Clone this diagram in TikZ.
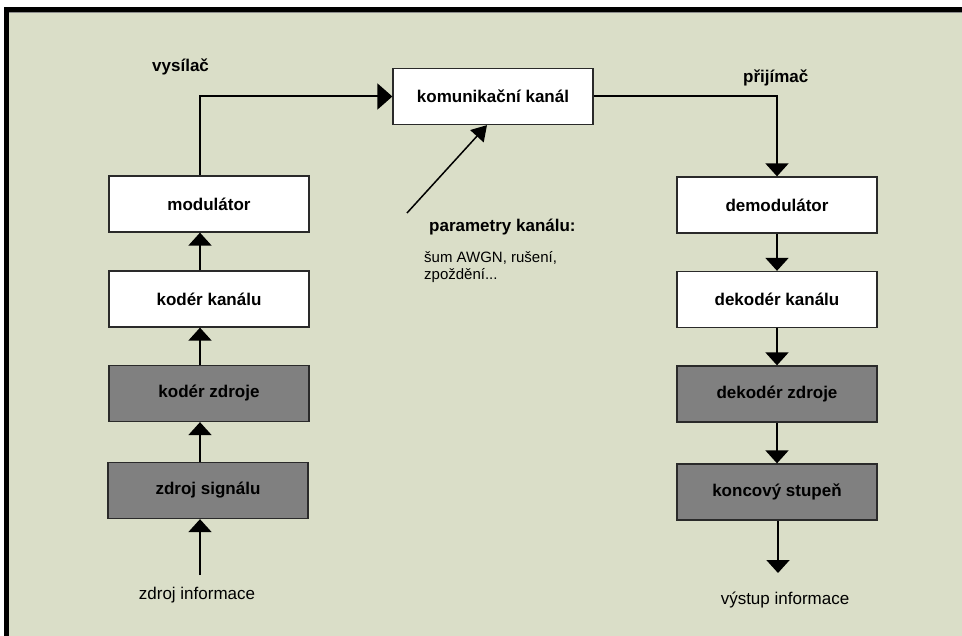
\documentclass[tikz,border=0pt]{standalone}
\usepackage{fontspec}
\setmainfont{Liberation Sans}
\usetikzlibrary{arrows.meta}
\definecolor{bg}{HTML}{DADEC8}
\definecolor{boxgray}{HTML}{808080}
\definecolor{edge}{HTML}{2A2A2A}
\tikzset{
  blk/.style={draw=edge, line width=1.3pt, minimum width=200pt, minimum height=56pt,
    inner sep=0pt, font=\fontsize{17}{20}\selectfont\bfseries, text=black},
  whitebox/.style={blk, fill=white},
  graybox/.style={blk, fill=boxgray},
  conn/.style={line width=2pt, -{Triangle[length=13pt,width=23pt]}},
  lblb/.style={anchor=base west, inner sep=0pt, font=\fontsize{17}{20}\selectfont\bfseries},
  lblr/.style={anchor=base, inner sep=0pt, font=\fontsize{17}{20}\selectfont},
  lblp/.style={anchor=base west, inner sep=0pt, font=\fontsize{15}{18}\selectfont}
}
\begin{document}
\begin{tikzpicture}[x=1pt,y=-1pt]
\useasboundingbox (0,0) rectangle (962,636);
\fill[white] (0,0) rectangle (962,636);
\fill[bg] (4,7) rectangle (962,636);
\fill[black] (4,7) rectangle (962,12);
\fill[black!45] (9,12) rectangle (962,13);
\fill[black] (4,7) rectangle (9,636);

\coordinate (xl) at (200,0);
\coordinate (xr) at (777,0);

\node[whitebox] (kan) at (493,96.5) {komunikační kanál};
\node[whitebox] (mod) at (209,204) {modulátor};
\node[whitebox] (kk) at (209,299) {kodér kanálu};
\node[graybox] (kz) at (209,393.5) {kodér zdroje};
\node[graybox] (zs) at (208,490.5) {zdroj signálu};

\node[whitebox] (dem) at (777,205) {demodulátor};
\node[whitebox] (dk) at (777,299.5) {dekodér kanálu};
\node[graybox] (dz) at (777,394) {dekodér zdroje};
\node[graybox] (ks) at (777,492) {koncový stupeň};

\coordinate (in) at (200,575);
\coordinate (out) at (778,573);
\coordinate (pstart) at (407,213);
\coordinate (ptip) at (487,0);

% left chain
\draw[conn] (in) -- (zs.south -| xl);
\draw[conn] (zs.north -| xl) -- (kz.south -| xl);
\draw[conn] (kz.north -| xl) -- (kk.south -| xl);
\draw[conn] (kk.north -| xl) -- (mod.south -| xl);
\draw[line width=2pt, -{Triangle[length=15pt,width=26pt]}] (mod.north -| xl) |- (kan.west);

% right chain
\draw[conn] (kan.east) -| (dem.north -| xr);
\draw[conn] (dem.south -| xr) -- (dk.north -| xr);
\draw[conn] (dk.south -| xr) -- (dz.north -| xr);
\draw[conn] (dz.south -| xr) -- (ks.north -| xr);
\draw[conn] (ks.south -| out) -- (out);

% channel parameters
\draw[line width=1.5pt, -{Triangle[length=15pt,width=18pt]}] (pstart) -- (kan.south -| ptip);

% labels
\node[lblb] (tx) at (152,72) {vysílač};
\node[lblb] (rx) at (743,83) {přijímač};
\node[lblb] (par) at (429,232) {parametry kanálu:};
\node[lblp] (par1) at (424,263) {šum AWGN, rušení,};
\node[lblp] (par2) at (424,280) {zpoždění...};
\node[lblr] (src) at (197,599) {zdroj informace};
\node[lblr] (dst) at (785,604) {výstup informace};
\end{tikzpicture}
\end{document}
